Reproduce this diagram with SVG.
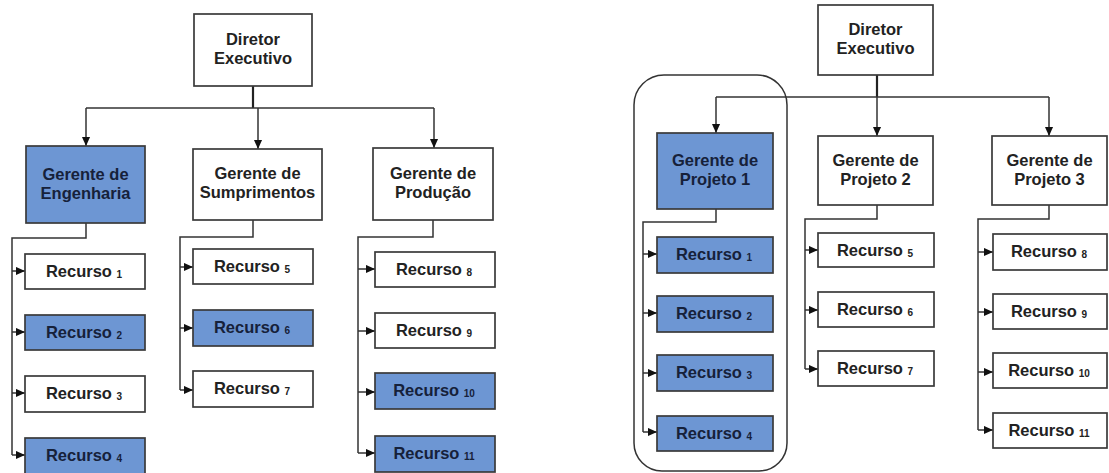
<svg xmlns="http://www.w3.org/2000/svg" width="1109" height="473" viewBox="0 0 1109 473">
  <defs>
    <marker id="arrow" viewBox="0 0 10 10" refX="10" refY="5" markerWidth="9" markerHeight="9" markerUnits="userSpaceOnUse" orient="auto">
      <path d="M0,0.5 L10,5 L0,9.5 Z" fill="#111"/>
    </marker>
    <style>
      .box { fill: #ffffff; stroke: #3a3a3a; stroke-width: 1.7; }
      .hl { fill: #6d96d3; stroke: #3a3a3a; stroke-width: 1.7; }
      .lbl { font-family: "Liberation Sans", Arial, sans-serif; font-weight: bold; font-size: 16.5px; fill: #222; text-anchor: middle; }
      .hl-t { fill: #16213a; }
      .sub { font-size: 10px; }
      .wire { fill: none; stroke: #333; stroke-width: 1.5; }
      .arr { fill: none; stroke: #333; stroke-width: 1.5; marker-end: url(#arrow); }
      .trunk { fill: none; stroke: #222; stroke-width: 2.2; }
      .frame { fill: none; stroke: #333; stroke-width: 1.5; }
    </style>
  </defs>

  <!-- ===== Functional structure (left) ===== -->
  <g id="connectors-functional">
    <path class="trunk" d="M253,86 V108"/>
    <path class="wire" d="M86,108 H434"/>
    <path class="arr" d="M86,108 V146"/>
    <path class="arr" d="M258,108 V149"/>
    <path class="arr" d="M434,108 V148"/>
    <!-- Engenharia branch -->
    <path class="wire" d="M86,223 V238 H12 V455"/>
    <path class="arr" d="M12,271 H25"/>
    <path class="arr" d="M12,332 H25"/>
    <path class="arr" d="M12,393 H25"/>
    <path class="arr" d="M12,455 H25"/>
    <!-- Sumprimentos branch -->
    <path class="wire" d="M253,220 V237 H180 V390"/>
    <path class="arr" d="M180,267 H193"/>
    <path class="arr" d="M180,328 H193"/>
    <path class="arr" d="M180,390 H193"/>
    <!-- Producao branch -->
    <path class="wire" d="M433,220 V237 H358 V453"/>
    <path class="arr" d="M358,269 H375"/>
    <path class="arr" d="M358,331 H375"/>
    <path class="arr" d="M358,392 H375"/>
    <path class="arr" d="M358,453 H375"/>
  </g>

  <g id="diretor-f">
    <rect class="box" x="194" y="14" width="118" height="72"/>
    <text class="lbl" x="253" y="45">Diretor</text>
    <text class="lbl" x="253" y="64">Executivo</text>
  </g>
  <g id="gerente-engenharia">
    <rect class="hl" x="26" y="146" width="119" height="77"/>
    <text class="lbl hl-t" x="85.5" y="180">Gerente de</text>
    <text class="lbl hl-t" x="85.5" y="199">Engenharia</text>
  </g>
  <g id="gerente-sumprimentos">
    <rect class="box" x="193" y="149" width="129" height="71"/>
    <text class="lbl" x="257.5" y="179">Gerente de</text>
    <text class="lbl" x="257.5" y="198">Sumprimentos</text>
  </g>
  <g id="gerente-producao">
    <rect class="box" x="373" y="148" width="120" height="72"/>
    <text class="lbl" x="433" y="179">Gerente de</text>
    <text class="lbl" x="433" y="198">Produção</text>
  </g>

  <g id="f-recurso-1"><rect class="box" x="25" y="254" width="120" height="35"/><text class="lbl" x="84" y="277">Recurso <tspan class="sub" dy="1">1</tspan></text></g>
  <g id="f-recurso-2"><rect class="hl" x="25" y="315" width="120" height="35"/><text class="lbl hl-t" x="84" y="338">Recurso <tspan class="sub" dy="1">2</tspan></text></g>
  <g id="f-recurso-3"><rect class="box" x="25" y="376" width="120" height="36"/><text class="lbl" x="84" y="399">Recurso <tspan class="sub" dy="1">3</tspan></text></g>
  <g id="f-recurso-4"><rect class="hl" x="25" y="438" width="120" height="38"/><text class="lbl hl-t" x="84" y="461">Recurso <tspan class="sub" dy="1">4</tspan></text></g>

  <g id="f-recurso-5"><rect class="box" x="193" y="249" width="120" height="35"/><text class="lbl" x="252" y="272">Recurso <tspan class="sub" dy="1">5</tspan></text></g>
  <g id="f-recurso-6"><rect class="hl" x="193" y="310" width="120" height="36"/><text class="lbl hl-t" x="252" y="333">Recurso <tspan class="sub" dy="1">6</tspan></text></g>
  <g id="f-recurso-7"><rect class="box" x="193" y="371" width="120" height="36"/><text class="lbl" x="252" y="394">Recurso <tspan class="sub" dy="1">7</tspan></text></g>

  <g id="f-recurso-8"><rect class="box" x="375" y="252" width="120" height="35"/><text class="lbl" x="434" y="275">Recurso <tspan class="sub" dy="1">8</tspan></text></g>
  <g id="f-recurso-9"><rect class="box" x="375" y="313" width="120" height="35"/><text class="lbl" x="434" y="336">Recurso <tspan class="sub" dy="1">9</tspan></text></g>
  <g id="f-recurso-10"><rect class="hl" x="375" y="373" width="120" height="36"/><text class="lbl hl-t" x="434" y="396">Recurso <tspan class="sub" dy="1">10</tspan></text></g>
  <g id="f-recurso-11"><rect class="hl" x="375" y="436" width="120" height="36"/><text class="lbl hl-t" x="434" y="459">Recurso <tspan class="sub" dy="1">11</tspan></text></g>

  <!-- ===== Projectized structure (right) ===== -->
  <g id="projeto-1-frame">
    <path class="frame" d="M634,105 A30,30 0 0 1 664,75 H757 A30,30 0 0 1 787,105 V443 A28,28 0 0 1 759,471 H662 A28,28 0 0 1 634,443 Z"/>
  </g>

  <g id="connectors-projectized">
    <path class="trunk" d="M877,75 V97"/>
    <path class="wire" d="M716,97 H1049"/>
    <path class="arr" d="M716,97 V133"/>
    <path class="arr" d="M877,97 V136"/>
    <path class="arr" d="M1049,97 V136"/>
    <!-- Projeto 1 branch -->
    <path class="wire" d="M716,209 V222 H643 V432"/>
    <path class="arr" d="M643,254 H657"/>
    <path class="arr" d="M643,313 H657"/>
    <path class="arr" d="M643,373 H657"/>
    <path class="arr" d="M643,432 H657"/>
    <!-- Projeto 2 branch -->
    <path class="wire" d="M877,205 V219 H805 V369"/>
    <path class="arr" d="M805,250 H818"/>
    <path class="arr" d="M805,310 H818"/>
    <path class="arr" d="M805,369 H818"/>
    <!-- Projeto 3 branch -->
    <path class="wire" d="M1049,205 V219 H978 V430"/>
    <path class="arr" d="M978,252 H993"/>
    <path class="arr" d="M978,312 H993"/>
    <path class="arr" d="M978,372 H993"/>
    <path class="arr" d="M978,430 H993"/>
  </g>

  <g id="diretor-p">
    <rect class="box" x="818" y="5" width="115" height="70"/>
    <text class="lbl" x="875.5" y="35">Diretor</text>
    <text class="lbl" x="875.5" y="54">Executivo</text>
  </g>
  <g id="gerente-projeto-1">
    <rect class="hl" x="657" y="133" width="116" height="76"/>
    <text class="lbl hl-t" x="715" y="166">Gerente de</text>
    <text class="lbl hl-t" x="715" y="185">Projeto 1</text>
  </g>
  <g id="gerente-projeto-2">
    <rect class="box" x="818" y="136" width="115" height="69"/>
    <text class="lbl" x="875.5" y="166">Gerente de</text>
    <text class="lbl" x="875.5" y="185">Projeto 2</text>
  </g>
  <g id="gerente-projeto-3">
    <rect class="box" x="992" y="136" width="115" height="69"/>
    <text class="lbl" x="1049.5" y="166">Gerente de</text>
    <text class="lbl" x="1049.5" y="185">Projeto 3</text>
  </g>

  <g id="p-recurso-1"><rect class="hl" x="657" y="237" width="116" height="36"/><text class="lbl hl-t" x="714" y="260">Recurso <tspan class="sub" dy="1">1</tspan></text></g>
  <g id="p-recurso-2"><rect class="hl" x="657" y="296" width="116" height="36"/><text class="lbl hl-t" x="714" y="319">Recurso <tspan class="sub" dy="1">2</tspan></text></g>
  <g id="p-recurso-3"><rect class="hl" x="657" y="355" width="116" height="36"/><text class="lbl hl-t" x="714" y="378">Recurso <tspan class="sub" dy="1">3</tspan></text></g>
  <g id="p-recurso-4"><rect class="hl" x="657" y="416" width="116" height="35"/><text class="lbl hl-t" x="714" y="439">Recurso <tspan class="sub" dy="1">4</tspan></text></g>

  <g id="p-recurso-5"><rect class="box" x="818" y="233" width="116" height="34"/><text class="lbl" x="875" y="256">Recurso <tspan class="sub" dy="1">5</tspan></text></g>
  <g id="p-recurso-6"><rect class="box" x="818" y="292" width="116" height="35"/><text class="lbl" x="875" y="315">Recurso <tspan class="sub" dy="1">6</tspan></text></g>
  <g id="p-recurso-7"><rect class="box" x="818" y="351" width="116" height="35"/><text class="lbl" x="875" y="374">Recurso <tspan class="sub" dy="1">7</tspan></text></g>

  <g id="p-recurso-8"><rect class="box" x="993" y="234" width="114" height="36"/><text class="lbl" x="1049" y="257">Recurso <tspan class="sub" dy="1">8</tspan></text></g>
  <g id="p-recurso-9"><rect class="box" x="993" y="294" width="114" height="35"/><text class="lbl" x="1049" y="317">Recurso <tspan class="sub" dy="1">9</tspan></text></g>
  <g id="p-recurso-10"><rect class="box" x="993" y="353" width="114" height="35"/><text class="lbl" x="1049" y="376">Recurso <tspan class="sub" dy="1">10</tspan></text></g>
  <g id="p-recurso-11"><rect class="box" x="993" y="413" width="114" height="35"/><text class="lbl" x="1049" y="436">Recurso <tspan class="sub" dy="1">11</tspan></text></g>
</svg>
